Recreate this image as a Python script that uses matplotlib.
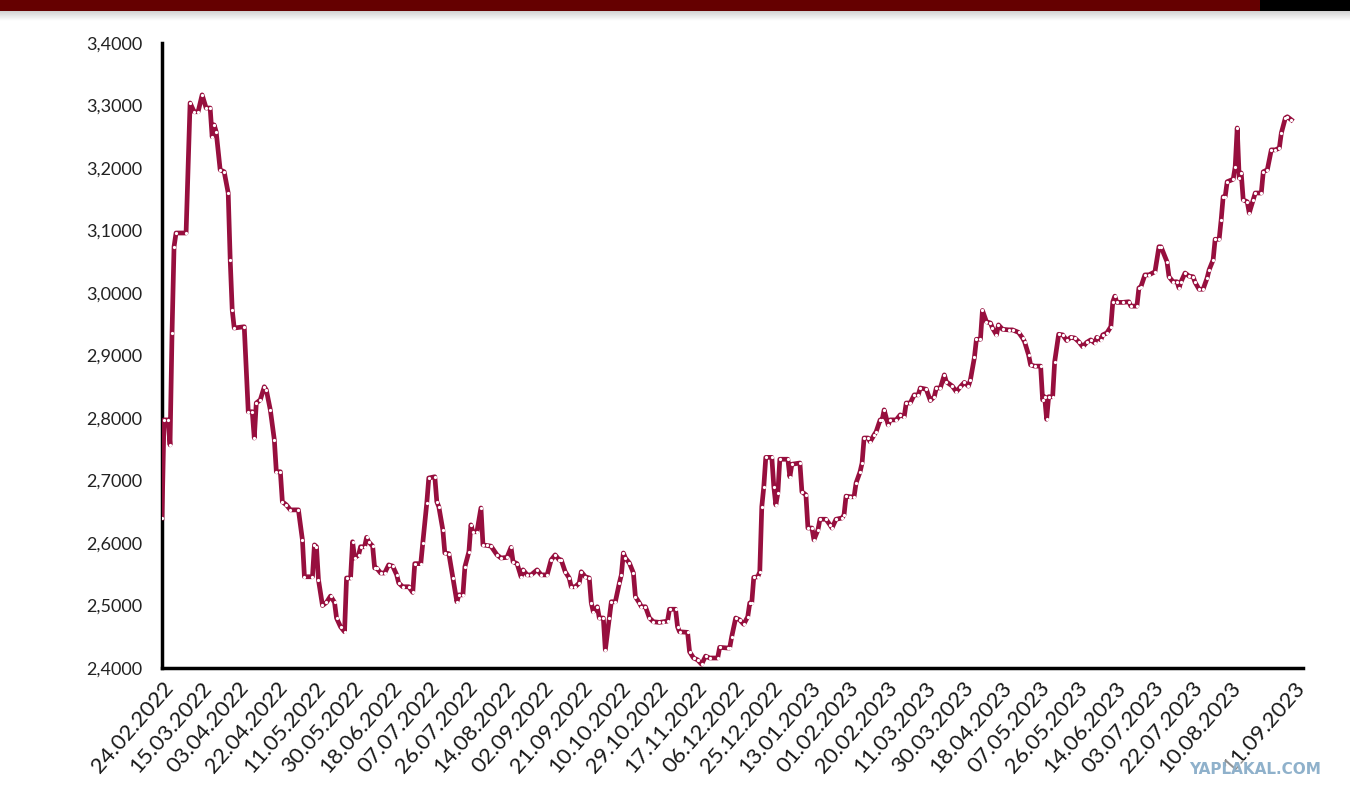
import numpy as np
import pandas as pd
import matplotlib
matplotlib.use("Agg")
import matplotlib.pyplot as plt
from matplotlib.patches import Rectangle

# ---- data ----
start_date = "2022-02-24"
day_offsets = [
    0, 1, 3, 4, 5, 6, 7, 12, 14, 16, 18, 20, 22, 24, 25, 26, 27, 29, 31, 33,
    34, 35, 36, 41, 43, 45, 46, 47, 49, 51, 52, 54, 56, 57, 59, 60, 62, 64, 68, 70,
    71, 75, 76, 77, 78, 80, 82, 84, 86, 87, 89, 91, 92, 94, 95, 96, 98, 99, 101, 102,
    103, 105, 106, 107, 109, 111, 113, 115, 117, 118, 120, 123, 125, 126, 129, 130, 132, 133, 136, 137,
    138, 140, 141, 143, 145, 147, 148, 150, 151, 153, 154, 155, 157, 159, 160, 162, 164, 167, 169, 172,
    174, 175, 177, 179, 180, 182, 184, 187, 189, 192, 194, 196, 198, 199, 201, 203, 204, 206, 208, 209,
    211, 213, 214, 215, 217, 218, 220, 221, 223, 224, 226, 228, 229, 230, 231, 233, 235, 236, 238, 239,
    241, 243, 245, 248, 250, 252, 253, 256, 257, 258, 262, 263, 265, 267, 269, 271, 273, 277, 278, 282,
    283, 284, 286, 288, 290, 292, 293, 294, 295, 297, 298, 299, 300, 301, 304, 305, 306, 307, 308, 312,
    313, 314, 318, 319, 321, 322, 324, 325, 327, 328, 331, 333, 334, 336, 339, 340, 341, 343, 345, 346,
    348, 349, 350, 352, 353, 355, 356, 358, 359, 360, 362, 363, 366, 368, 370, 371, 373, 375, 377, 378,
    381, 383, 385, 386, 388, 390, 391, 394, 396, 398, 400, 402, 403, 405, 406, 408, 409, 411, 413, 414,
    416, 417, 419, 422, 424, 427, 429, 430, 432, 433, 435, 438, 439, 440, 441, 442, 444, 445, 447, 449,
    451, 453, 455, 457, 459, 461, 463, 465, 466, 468, 469, 471, 473, 474, 475, 476, 479, 482, 483, 486,
    487, 488, 490, 492, 495, 497, 498, 501, 502, 504, 506, 507, 508, 510, 512, 514, 515, 517, 519, 521,
    522, 524, 525, 527, 528, 529, 530, 531, 534, 535, 536, 537, 538, 539, 541, 542, 544, 545, 548, 549,
    551, 553, 555, 557, 558, 560, 561, 563,
]
rates = [
    2.640, 2.797, 2.797, 2.757, 2.936, 3.074, 3.096, 3.096, 3.304, 3.290, 3.290, 3.317, 3.296, 3.296, 3.250, 3.269, 3.258, 3.197, 3.194, 3.160,
    3.053, 2.973, 2.944, 2.946, 2.810, 2.810, 2.768, 2.824, 2.829, 2.850, 2.845, 2.813, 2.765, 2.714, 2.714, 2.666, 2.661, 2.653, 2.653, 2.605,
    2.546, 2.546, 2.597, 2.594, 2.541, 2.500, 2.505, 2.515, 2.505, 2.480, 2.466, 2.458, 2.544, 2.544, 2.602, 2.576, 2.581, 2.594, 2.594, 2.609,
    2.602, 2.595, 2.560, 2.560, 2.552, 2.552, 2.565, 2.563, 2.549, 2.536, 2.530, 2.530, 2.521, 2.567, 2.567, 2.600, 2.664, 2.704, 2.706, 2.666,
    2.658, 2.621, 2.584, 2.583, 2.544, 2.506, 2.517, 2.517, 2.562, 2.586, 2.629, 2.618, 2.618, 2.656, 2.597, 2.596, 2.595, 2.581, 2.576, 2.577,
    2.593, 2.570, 2.567, 2.546, 2.557, 2.549, 2.549, 2.557, 2.549, 2.549, 2.573, 2.581, 2.573, 2.573, 2.554, 2.544, 2.530, 2.530, 2.536, 2.554,
    2.546, 2.544, 2.504, 2.490, 2.498, 2.480, 2.480, 2.429, 2.480, 2.506, 2.506, 2.536, 2.549, 2.584, 2.576, 2.568, 2.552, 2.514, 2.504, 2.498,
    2.498, 2.480, 2.474, 2.473, 2.474, 2.475, 2.494, 2.494, 2.466, 2.458, 2.457, 2.426, 2.416, 2.413, 2.406, 2.419, 2.416, 2.416, 2.433, 2.432,
    2.432, 2.450, 2.480, 2.477, 2.470, 2.482, 2.504, 2.504, 2.545, 2.546, 2.554, 2.658, 2.690, 2.737, 2.737, 2.690, 2.661, 2.680, 2.734, 2.734,
    2.706, 2.726, 2.728, 2.682, 2.677, 2.624, 2.624, 2.605, 2.621, 2.638, 2.638, 2.629, 2.624, 2.638, 2.640, 2.645, 2.675, 2.674, 2.674, 2.696,
    2.714, 2.728, 2.768, 2.768, 2.762, 2.773, 2.778, 2.797, 2.797, 2.813, 2.789, 2.797, 2.797, 2.805, 2.802, 2.824, 2.824, 2.837, 2.837, 2.848,
    2.846, 2.828, 2.834, 2.848, 2.848, 2.869, 2.858, 2.851, 2.842, 2.850, 2.857, 2.851, 2.861, 2.897, 2.926, 2.926, 2.972, 2.954, 2.952, 2.944,
    2.933, 2.949, 2.942, 2.941, 2.941, 2.937, 2.928, 2.922, 2.901, 2.885, 2.883, 2.883, 2.829, 2.834, 2.798, 2.834, 2.834, 2.890, 2.934, 2.933,
    2.924, 2.929, 2.928, 2.922, 2.914, 2.921, 2.925, 2.920, 2.929, 2.925, 2.933, 2.936, 2.946, 2.986, 2.995, 2.985, 2.985, 2.986, 2.979, 2.979,
    3.008, 3.010, 3.029, 3.029, 3.034, 3.074, 3.074, 3.050, 3.026, 3.018, 3.018, 3.008, 3.018, 3.032, 3.027, 3.026, 3.017, 3.006, 3.006, 3.024,
    3.037, 3.053, 3.086, 3.086, 3.117, 3.154, 3.154, 3.178, 3.182, 3.202, 3.264, 3.184, 3.192, 3.149, 3.146, 3.128, 3.149, 3.160, 3.160, 3.194,
    3.197, 3.229, 3.229, 3.232, 3.256, 3.280, 3.282, 3.277,
]
tick_labels = [
    "24.02.2022", "15.03.2022", "03.04.2022", "22.04.2022", "11.05.2022", "30.05.2022",
    "18.06.2022", "07.07.2022", "26.07.2022", "14.08.2022", "02.09.2022", "21.09.2022",
    "10.10.2022", "29.10.2022", "17.11.2022", "06.12.2022", "25.12.2022", "13.01.2023",
    "01.02.2023", "20.02.2023", "11.03.2023", "30.03.2023", "18.04.2023", "07.05.2023",
    "26.05.2023", "14.06.2023", "03.07.2023", "22.07.2023", "10.08.2023", "11.09.2023",
]
y_ticks = [2.4, 2.5, 2.6, 2.7, 2.8, 2.9, 3.0, 3.1, 3.2, 3.3, 3.4]

# ---- build ----
t0 = pd.Timestamp(start_date)
dates = t0 + pd.to_timedelta(day_offsets, unit="D")
tick_dates = pd.to_datetime(tick_labels, format="%d.%m.%Y")

plt.rcParams["font.family"] = ["Lato", "DejaVu Sans"]

W, H = 1350, 798
fig = plt.figure(figsize=(W / 100, H / 100), dpi=100)
fig.patch.set_facecolor("white")

# top banner
fig.add_artist(Rectangle((0, 1 - 11 / H), 1260 / W, 11 / H, transform=fig.transFigure,
                         facecolor="#650000", edgecolor="none", zorder=5))
fig.add_artist(Rectangle((1260 / W, 1 - 11 / H), 1 - 1260 / W, 11 / H, transform=fig.transFigure,
                         facecolor="#000000", edgecolor="none", zorder=5))
grad = np.linspace(0.80, 1.0, 50).reshape(-1, 1)
gax = fig.add_axes([0, 1 - 21 / H, 1, 10 / H])
gax.imshow(np.dstack([grad, grad, grad]), aspect="auto", extent=(0, 1, 0, 1))
gax.axis("off")

ax = fig.add_axes([162 / W, 1 - 668 / H, (1303 - 162) / W, (668 - 43) / H])
ax.plot(dates, rates, color="#970F3E", lw=3.4, solid_joinstyle="round", zorder=3)
ax.plot(dates, rates, linestyle="none", marker="o", ms=1.3, mfc="white", mec="white", zorder=4)

ax.set_ylim(2.4, 3.4)
ax.set_xlim(t0, t0 + pd.Timedelta(days=568.8))
ax.set_yticks(y_ticks)
ax.set_yticklabels([f"{v:.4f}".replace(".", ",") for v in y_ticks], fontsize=13, color="#222222")
ax.set_xticks(tick_dates)
ax.set_xticklabels(tick_labels, rotation=49, ha="right", rotation_mode="anchor",
                   fontsize=16, color="#1a1a1a")
ax.tick_params(axis="both", length=0)
ax.tick_params(axis="y", pad=14)
ax.tick_params(axis="x", pad=7)
for s in ["top", "right"]:
    ax.spines[s].set_visible(False)
for s in ["left", "bottom"]:
    ax.spines[s].set_linewidth(2.5)
    ax.spines[s].set_color("black")

fig.text(1255 / W, 1 - 769 / H, "YAPLAKAL.COM", ha="center", va="center",
         fontsize=11, fontweight="bold", color="#8FB1CB", family=["DejaVu Sans"],
         bbox=dict(facecolor="white", edgecolor="none", alpha=0.5, pad=1))

fig.savefig("out.png", dpi=100)
